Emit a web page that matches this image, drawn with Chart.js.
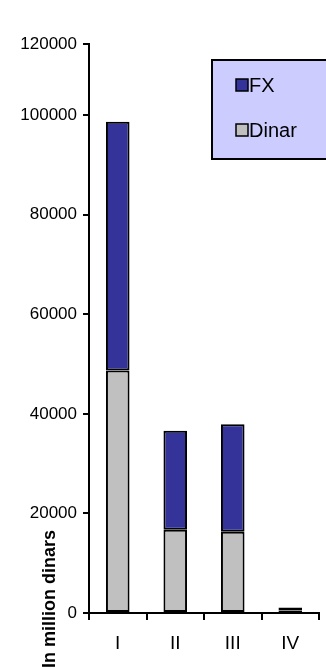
<!DOCTYPE html>
<html>
<head>
<meta charset="utf-8">
<script src="https://cdn.jsdelivr.net/npm/chart.js@4/dist/chart.umd.min.js"></script>
<style>
html,body{margin:0;padding:0;background:#fff;}
canvas{display:block;}
</style>
</head>
<body>
<canvas id="debtChart" width="326" height="668"></canvas>
<script>

const quarters = ["I", "II", "III", "IV"]
const dinarValues = [48700, 16700, 16300, 500]
const fxValues = [50000, 19900, 21600, 600]

const yTickValues = [0, 20000, 40000, 60000, 80000, 100000, 114300]
const yTickLabels = ["0", "20000", "40000", "60000", "80000", "100000", "120000"]

const axisTitle = "In million dinars"
const font = "'Liberation Sans', Arial, sans-serif"


// boxed legend in the upper right plus the rotated axis caption
const extras = {
id: "extras",
afterDraw(chart){

const ctx = chart.ctx
ctx.save()

ctx.fillStyle = "#ccccff"
ctx.fillRect(212, 60, 120, 99)
ctx.strokeStyle = "#000"
ctx.lineWidth = 2
ctx.strokeRect(212, 60, 120, 99)

let items = chart.data.datasets.slice().reverse()
items.forEach((ds, i)=>{

let y = 79 + i * 45
ctx.fillStyle = ds.backgroundColor
ctx.fillRect(236, y, 12, 12)
ctx.lineWidth = 1.5
ctx.strokeRect(236, y, 12, 12)

ctx.fillStyle = "#000"
ctx.font = "20px " + font
ctx.textBaseline = "middle"
ctx.textAlign = "left"
ctx.fillText(ds.label, 249, y + 7)

})

ctx.translate(50, 599)
ctx.rotate(-Math.PI / 2)
ctx.font = "bold 18px " + font
ctx.textAlign = "center"
ctx.textBaseline = "middle"
ctx.fillStyle = "#000"
ctx.fillText(axisTitle, 0, 0)

ctx.restore()

}
}


new Chart(document.getElementById("debtChart"), {

type: "bar",

data: {
labels: quarters,
datasets: [
{
label: "Dinar",
data: dinarValues,
backgroundColor: "#c0c0c0",
borderColor: "#000",
borderWidth: 2,
borderSkipped: false
},
{
label: "FX",
data: fxValues,
backgroundColor: "#333399",
borderColor: "#000",
borderWidth: 2,
borderSkipped: false
}
]
},

options: {
responsive: false,
animation: false,
layout: { padding: { top: 44, right: 7, bottom: 0, left: 0 } },
plugins: {
legend: { display: false },
tooltip: { enabled: false }
},
datasets: {
bar: { categoryPercentage: 1, barPercentage: 0.41 }
},
scales: {
x: {
stacked: true,
afterFit(scale){ scale.height = 55 },
border: { color: "#000", width: 2 },
grid: { drawOnChartArea: false, color: "#000", lineWidth: 2, tickLength: 7, offset: true },
ticks: { color: "#000", font: { family: font, size: 19 }, padding: 12 }
},
y: {
stacked: true,
min: 0,
max: yTickValues[yTickValues.length - 1],
afterFit(scale){ scale.width = 89 },
afterBuildTicks(scale){
scale.ticks = yTickValues.map(v=>({ value: v }))
},
border: { color: "#000", width: 2 },
grid: { drawOnChartArea: false, color: "#000", lineWidth: 2, tickLength: 6 },
ticks: {
color: "#000",
font: { family: font, size: 17 },
padding: 6,
callback: (value, index)=>yTickLabels[index]
}
}
}
},

plugins: [extras]

})

</script>
</body>
</html>
